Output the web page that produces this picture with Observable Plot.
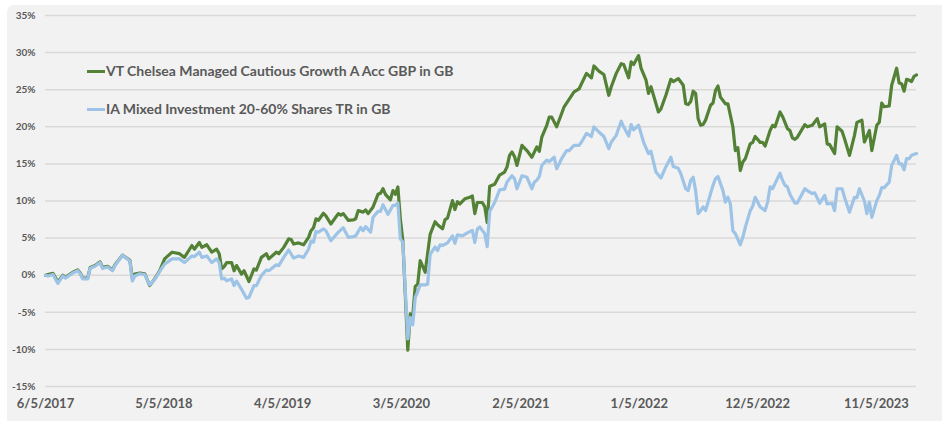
<!DOCTYPE html>
<html>
<head>
<meta charset="utf-8">
<script src="https://cdn.jsdelivr.net/npm/d3@7"></script>
<script src="https://cdn.jsdelivr.net/npm/@observablehq/plot@0.6"></script>
<style>
  html, body { margin: 0; padding: 0; background: #ffffff; }
  #wrap { position: relative; width: 942px; height: 421px; overflow: hidden; }
  #panel { position: absolute; left: 7px; top: 5px; width: 960px; height: 440px; background: #f2f2f2; border-radius: 7px; }
  #chart { position: absolute; left: 0; top: 0; }
  .legend { position: absolute; left: 87px; font-family: Lato, "Open Sans", sans-serif; font-size: 14px; font-weight: bold; line-height: 18px; color: #595959; white-space: nowrap; }
  .legend .sw { display: inline-block; width: 18px; height: 3.5px; vertical-align: middle; margin-right: 1px; position: relative; top: -1px; }
</style>
</head>
<body>
<div id="wrap">
  <div id="panel"></div>
  <div id="chart"></div>
  <div class="legend" id="lg1" style="top:62px"><span class="sw" style="background:#538135"></span>VT Chelsea Managed Cautious Growth A Acc GBP in GB</div>
  <div class="legend" id="lg2" style="top:100px"><span class="sw" style="background:#9dc3e6"></span>IA Mixed Investment 20-60% Shares TR in GB</div>
</div>
<script>
// Series: [weeks since 6/5/2017, cumulative return %]
const fundPoints = [[0,0.0],[1,0.1],[3,0.25],[5,-0.9],[7,0.0],[8,-0.3],[11,0.4],[13,0.7],[14,0.3],[15,-0.4],[17,-0.4],[18,1.05],[20,1.3],[22,1.8],[23,1.05],[25,1.2],[27,0.7],[28,1.4],[31,2.7],[34,2.0],[35,-0.4],[36,0.15],[38,0.3],[40,0.2],[42,-1.4],[44,-0.5],[46,0.6],[48,2.2],[50,2.8],[51,3.1],[54,2.9],[56,2.4],[59,4.0],[60,3.5],[62,4.4],[63,3.75],[65,4.1],[67,3.1],[69,3.5],[70,2.9],[71,0.85],[72,1.15],[73,1.7],[75,1.7],[76,0.6],[77,1.3],[79,0.15],[80,0.6],[82,-0.85],[84,0.85],[85,0.7],[87,2.4],[89,2.9],[90,2.2],[93,3.1],[94,2.9],[96,3.75],[98,4.9],[99,4.8],[100,4.2],[102,4.35],[104,4.1],[106,5.1],[107,6.0],[108,6.4],[109,7.6],[110,7.4],[112,8.35],[113,8.0],[115,6.9],[118,8.3],[119,8.1],[120,8.3],[122,7.4],[124,7.45],[125,7.6],[126,8.7],[128,8.5],[129,8.8],[130,8.3],[132,9.2],[134,10.9],[135,11.05],[136,11.65],[137,10.9],[139,10.15],[140,11.4],[141,10.9],[142,11.9],[143,7.6],[144,4.65],[146,-10.1],[147,-5.2],[148,-5.4],[149,-1.5],[150,-1.2],[151,1.95],[153,0.4],[155,5.5],[157,7.2],[158,6.8],[160,6.25],[161,7.5],[162,7.7],[164,10.05],[165,8.85],[166,9.9],[167,9.6],[169,10.3],[171,10.5],[172,10.7],[173,8.3],[174,9.8],[176,9.8],[177,9.25],[178,7.1],[179,12.0],[181,12.25],[183,13.5],[185,13.9],[186,14.6],[187,16.15],[188,16.6],[189,16.0],[190,14.8],[192,17.5],[194,16.8],[196,15.9],[198,17.3],[199,16.7],[200,18.6],[202,20.2],[203,21.3],[204,21.3],[206,20.0],[208,21.8],[209,22.7],[211,23.7],[213,24.7],[215,25.1],[216,25.8],[218,27.2],[220,26.6],[221,28.2],[223,27.5],[225,27.05],[227,24.25],[228,25.4],[230,27.2],[232,28.5],[233,28.4],[235,26.6],[236,28.75],[237,28.4],[239,29.6],[240,27.9],[242,26.3],[243,24.5],[244,25.4],[247,22.0],[248,22.4],[250,24.25],[252,26.4],[253,26.1],[255,26.5],[257,25.6],[258,23.1],[259,23.0],[260,23.4],[261,24.8],[262,24.5],[263,21.1],[264,20.2],[265,20.3],[266,20.9],[268,22.9],[269,23.2],[270,24.9],[271,25.5],[272,24.0],[274,23.1],[275,23.1],[277,20.0],[278,16.8],[279,17.2],[280,14.1],[281,15.25],[282,15.7],[284,17.7],[285,17.9],[286,18.7],[288,17.9],[289,17.9],[290,17.4],[292,19.5],[293,20.2],[294,20.0],[296,22.0],[297,21.4],[299,19.75],[300,19.5],[301,18.5],[302,18.3],[303,18.6],[306,20.3],[307,20.0],[309,20.2],[311,21.1],[312,20.0],[314,20.4],[315,17.7],[316,17.6],[318,16.4],[319,20.0],[321,19.4],[322,18.4],[324,16.15],[326,18.85],[327,20.6],[329,20.9],[330,17.95],[332,19.5],[333,16.8],[335,20.2],[336,20.6],[337,23.2],[338,22.7],[340,22.8],[341,25.6],[343,27.9],[344,25.9],[345,25.8],[346,24.8],[347,26.4],[348,26.3],[349,26.1],[350,26.8],[351,27.0]];

const sectorPoints = [[0,0.0],[1,-0.1],[3,0.1],[5,-1.1],[7,-0.1],[8,-0.4],[11,0.3],[13,0.6],[14,0.2],[15,-0.5],[17,-0.5],[18,0.95],[20,1.2],[22,1.7],[23,0.9],[25,1.1],[27,0.6],[28,1.3],[31,2.7],[34,1.9],[35,-0.8],[36,-0.1],[38,0.2],[40,0.1],[42,-1.3],[44,-0.6],[46,0.5],[48,1.5],[51,2.2],[54,2.2],[56,1.7],[59,2.6],[60,2.5],[62,3.1],[63,2.4],[65,2.6],[67,1.7],[69,2.2],[70,1.7],[71,-0.5],[72,-0.4],[73,-0.75],[75,-0.5],[76,-1.4],[77,-0.8],[79,-1.9],[81,-3.1],[82,-3.0],[84,-1.4],[85,-1.4],[87,-0.05],[89,0.7],[90,0.6],[93,1.4],[94,1.3],[96,2.4],[98,3.4],[100,2.3],[102,2.6],[104,2.4],[106,3.5],[107,4.6],[108,4.45],[109,5.9],[110,5.8],[112,6.25],[113,6.0],[115,4.65],[118,5.8],[120,6.4],[122,5.1],[124,5.2],[125,5.3],[127,6.45],[128,6.0],[129,6.55],[131,5.8],[132,7.8],[134,8.6],[135,8.6],[136,9.5],[138,8.2],[140,9.4],[141,9.4],[142,9.75],[143,4.9],[144,4.45],[146,-8.6],[147,-5.7],[148,-6.7],[149,-3.0],[150,-2.2],[151,-1.3],[153,-1.3],[154,-1.2],[155,2.8],[157,3.8],[158,3.3],[159,4.1],[160,4.0],[162,4.35],[164,5.3],[165,4.3],[166,5.45],[168,5.3],[170,5.7],[172,6.05],[173,4.4],[174,6.2],[175,6.5],[177,5.6],[178,3.85],[179,8.6],[181,9.8],[183,11.5],[185,11.6],[186,12.55],[188,13.4],[189,13.0],[190,11.65],[192,13.4],[194,13.2],[196,11.65],[197,12.55],[198,12.8],[199,13.3],[200,14.8],[202,15.5],[203,15.3],[205,15.9],[206,14.35],[208,15.7],[210,16.8],[211,16.8],[213,17.5],[215,17.5],[216,17.95],[218,19.1],[220,18.7],[221,20.0],[223,19.3],[225,18.7],[227,17.05],[228,17.95],[230,18.85],[232,20.75],[233,20.0],[235,18.75],[236,20.3],[237,19.6],[239,20.2],[240,19.1],[241,17.95],[243,16.4],[244,16.7],[246,13.9],[248,13.1],[250,14.6],[252,15.9],[253,14.65],[255,14.4],[256,13.7],[258,11.65],[259,11.4],[260,12.8],[261,13.2],[262,11.4],[263,8.3],[264,8.7],[265,9.2],[266,8.7],[268,11.0],[269,12.1],[270,13.0],[271,13.3],[273,11.4],[274,9.85],[275,10.5],[276,9.6],[277,6.0],[278,5.6],[280,4.1],[281,5.1],[282,6.45],[284,8.7],[285,9.3],[286,10.5],[288,9.2],[290,8.7],[291,9.85],[292,11.9],[293,11.65],[296,13.75],[297,12.8],[298,12.1],[299,11.9],[300,10.9],[302,9.7],[303,9.75],[306,11.65],[307,11.4],[309,11.0],[310,11.1],[312,9.7],[314,10.75],[315,9.6],[317,9.7],[318,8.7],[319,11.65],[321,11.65],[322,10.5],[324,8.5],[326,10.5],[327,10.45],[328,11.65],[330,10.0],[331,8.3],[332,9.85],[333,7.8],[335,10.05],[336,10.75],[337,11.8],[338,11.8],[340,12.55],[341,14.8],[343,16.15],[344,15.0],[345,15.0],[346,14.2],[347,15.7],[348,15.7],[349,16.15],[351,16.4]];

const xTickLabels = ["2017-06-05", "2018-05-05", "2019-04-05", "2020-03-05", "2021-02-05", "2022-01-05", "2022-12-05", "2023-11-05"];
const yTickValues = [-15, -10, -5, 0, 5, 10, 15, 20, 25, 30, 35];
const seriesNames = ["VT Chelsea Managed Cautious Growth A Acc GBP in GB", "IA Mixed Investment 20-60% Shares TR in GB"];
const seriesColors = ["#538135", "#9dc3e6"];

const startMs = Date.UTC(2017, 5, 5);
const toDate = w => new Date(startMs + w * 7 * 864e5);
const fundData = fundPoints.map(([w, v]) => ({date: toDate(w), value: v}));
const sectorData = sectorPoints.map(([w, v]) => ({date: toDate(w), value: v}));
const xTicks = xTickLabels.map(s => new Date(s + "T00:00:00Z"));

const chart = Plot.plot({
  width: 942,
  height: 421,
  marginLeft: 45,
  marginRight: 26,
  marginTop: 15,
  marginBottom: 35,
  style: {background: "transparent", fontFamily: "Lato, 'Open Sans', sans-serif", overflow: "visible"},
  x: {type: "utc", domain: [toDate(0), toDate(351)]},
  y: {domain: [-15, 35]},
  marks: [
    Plot.gridY(yTickValues, {stroke: "#d9d9d9", strokeOpacity: 1, strokeWidth: 1.5}),
    Plot.axisY(yTickValues, {tickSize: 0, tickPadding: 10, tickFormat: d => d + "%", fontSize: 10, fontWeight: "bold", fill: "#595959", label: null}),
    Plot.axisX(xTicks, {tickSize: 0, tickPadding: 12, tickFormat: d3.utcFormat("%-m/%-d/%Y"), fontSize: 13, fontWeight: "bold", fill: "#595959", label: null}),
    Plot.lineY(fundData, {x: "date", y: "value", stroke: seriesColors[0], strokeWidth: 3.2, strokeLinejoin: "round"}),
    Plot.lineY(sectorData, {x: "date", y: "value", stroke: seriesColors[1], strokeWidth: 3.2, strokeLinejoin: "round"})
  ]
});
document.getElementById("chart").appendChild(chart);
</script>
</body>
</html>
